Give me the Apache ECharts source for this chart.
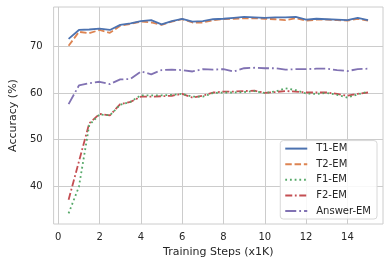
<!DOCTYPE html>
<html>
<head>
<meta charset="utf-8">
<script src="https://cdn.jsdelivr.net/npm/echarts@6/dist/echarts.min.js"></script>
<style>
html,body{margin:0;padding:0;background:#fff;}
#c{width:389px;height:268px;}
</style>
</head>
<body>
<div id="c"></div>
<script>
const steps = [0.5,1,1.5,2,2.5,3,3.5,4,4.5,5,5.5,6,6.5,7,7.5,8,8.5,9,9.5,10,10.5,11,11.5,12,12.5,13,13.5,14,14.5,15];
const t1em = [71.6,73.5,73.6,73.8,73.5,74.6,74.9,75.4,75.6,74.7,75.4,75.9,75.3,75.4,75.8,75.9,76.1,76.3,76.2,76.1,76.2,76.2,76.3,75.7,75.9,75.8,75.7,75.6,76.1,75.6];
const t2em = [70.1,73.1,72.8,73.5,72.9,74.4,74.8,75.3,75.1,74.6,75.3,75.8,75.1,75.1,75.6,75.8,75.9,76.0,76.0,75.9,75.8,75.6,76.0,75.5,75.7,75.7,75.6,75.5,75.9,75.5];
const f1em = [34.2,39.9,53.1,55.4,55.2,57.5,58.1,59.5,59.5,59.5,59.6,59.8,59.2,59.2,60.0,60.1,60.1,60.2,60.4,60.0,60.3,61.0,60.6,59.9,59.8,60.0,59.6,59.0,59.7,60.3];
const f2em = [37.1,45.3,53.5,55.5,55.2,57.6,58.1,59.2,59.2,59.3,59.4,59.8,59.0,59.4,60.1,60.3,60.3,60.4,60.5,60.0,60.2,60.4,60.3,60.1,60.1,60.1,59.8,59.4,59.8,60.1];
const answerEm = [57.6,61.6,62.1,62.4,61.9,62.9,63.0,64.6,64.0,64.9,65.0,64.9,64.6,65.1,65.0,65.1,64.6,65.3,65.4,65.3,65.3,65.0,65.1,65.1,65.2,65.2,64.9,64.7,65.1,65.2];
const xTicks = [0,2,4,6,8,10,12,14];
const yTicks = [40,50,60,70];
const seriesNames = ['T1-EM','T2-EM','F1-EM','F2-EM','Answer-EM'];

const values = [t1em,t2em,f1em,f2em,answerEm];
const colors = ['#4c72b0','#dd8452','#55a868','#c44e52','#8172b3'];
const dashes = ['solid',[6.5,2.8],[1.8,2.9],[7,2.6,1.8,2.6],[11,3,1.8,3]];
const font = 'DejaVu Sans';
const txt = '#262626';

const series = seriesNames.map((n,i)=>({
  name:n, type:'line', symbol:'none', showSymbol:false,
  data: steps.map((s,j)=>[s, values[i][j]]),
  lineStyle:{color:colors[i], width:1.8, type:dashes[i]},
  itemStyle:{color:colors[i]},
  z: 10-i,
  animation:false
}));

const chart = echarts.init(document.getElementById('c'), null, {renderer:'canvas'});
chart.setOption({
  animation:false,
  backgroundColor:'#ffffff',
  grid:{left:48,right:6,top:7,bottom:44,show:true,borderColor:'#cccccc',borderWidth:1,containLabel:false},
  xAxis:{
    type:'value', min:-0.225, max:15.725,
    name:'Training Steps (x1K)', nameLocation:'middle', nameGap:23,
    nameTextStyle:{fontFamily:font,fontSize:11,color:txt},
    axisLine:{show:false}, axisTick:{show:false, customValues:xTicks},
    axisLabel:{customValues:xTicks, fontFamily:font, fontSize:10, color:txt, margin:8},
    splitLine:{show:true, lineStyle:{color:'#cccccc',width:1}}
  },
  yAxis:{
    type:'value', min:31.92, max:78.42,
    name:'Accuracy (%)', nameLocation:'middle', nameGap:32,
    nameTextStyle:{fontFamily:font,fontSize:11,color:txt},
    axisLine:{show:false}, axisTick:{show:false, customValues:yTicks},
    axisLabel:{customValues:yTicks, fontFamily:font, fontSize:10, color:txt, margin:11},
    splitLine:{show:true, lineStyle:{color:'#cccccc',width:1}}
  },
  legend:{
    orient:'vertical', right:12, bottom:49,
    data:seriesNames,
    itemWidth:22, itemHeight:10, itemGap:5.6,
    backgroundColor:'rgba(255,255,255,0.85)', borderColor:'#d8d8d8', borderWidth:1, borderRadius:3,
    padding:[3,6,3,4],
    textStyle:{fontFamily:font,fontSize:10,color:txt,padding:[0,0,0,4]},
    itemStyle:{opacity:0},
    lineStyle:{width:2}
  },
  series: series
});
</script>
</body>
</html>
